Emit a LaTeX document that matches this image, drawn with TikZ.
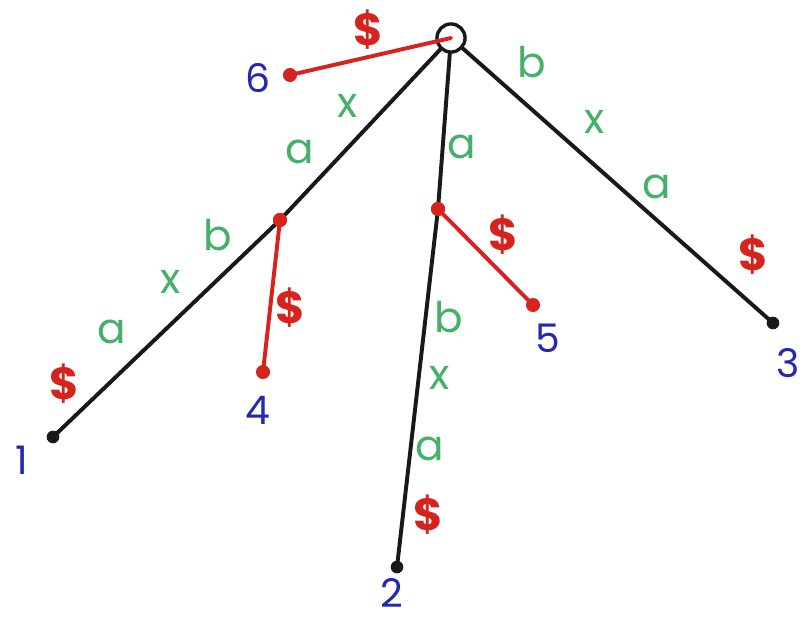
\documentclass[tikz,border=0pt]{standalone}
\usepackage{fontspec}
\setmainfont{Poppins}
\begin{document}
\begin{tikzpicture}[x=0.025cm,y=-0.025cm,
  edge/.style={line width=2.8pt,draw=black!90,line cap=round},
  redge/.style={line width=2.8pt,draw=redc,line cap=round},
  bdot/.style={circle,fill=black!90,inner sep=0pt,minimum size=9pt},
  rdot/.style={circle,fill=redc,inner sep=0pt,minimum size=10pt},
  lab/.style={text=greenc,font=\fontsize{30}{30}\selectfont,inner sep=0pt},
  dol/.style={text=redc,font=\fontsize{32}{32}\selectfont\bfseries,inner sep=0pt},
  num/.style={text=bluec,font=\fontsize{28}{28}\selectfont,inner sep=0pt}]
\definecolor{greenc}{RGB}{70,175,105}
\definecolor{redc}{RGB}{215,35,30}
\definecolor{bluec}{RGB}{35,40,175}
\useasboundingbox[fill=white] (0,0) rectangle (802,621);
% nodes
\node[circle,draw=black!90,line width=2.4pt,minimum size=20pt,inner sep=0pt] (root) at (451,38) {};
\node[bdot] (l1) at (53,437) {};
\node[rdot] (i4) at (280,220) {};
\node[rdot] (l4) at (263,372) {};
\node[rdot] (l6) at (290,75) {};
\node[rdot] (i5) at (438,209) {};
\node[rdot] (l5) at (533,305) {};
\node[bdot] (l2) at (397,567) {};
\node[bdot] (l3) at (773,323) {};
% edges
\draw[edge] (root) -- (i4.center) -- (l1.center);
\draw[edge] (root) -- (i5.center) -- (l2.center);
\draw[edge] (root) -- (l3.center);
\draw[redge] (root.center) -- (l6.center);
\draw[redge] (i4.center) -- (l4.center);
\draw[redge] (i5.center) -- (l5.center);
\node[rdot] at (i4) {};
\node[rdot] at (i5) {};
% labels
\node[dol] (d6) at (368,30) {\$};
\node[num] (n6) at (258,78) {6};
\node[lab] (t1) at (348,106) {x};
\node[lab] (t2) at (300,152) {a};
\node[lab] (t3) at (218,235) {b};
\node[lab] (t4) at (171,282) {x};
\node[lab] (t5) at (112,332) {a};
\node[dol] (d1) at (64,384) {\$};
\node[dol] (d4) at (290,308) {\$};
\node[num] (n4) at (258,410) {4};
\node[num] (n1) at (22,460) {1};
\node[lab] (t6) at (462,147) {a};
\node[dol] (d5) at (503,235) {\$};
\node[num] (n5) at (548,338) {5};
\node[lab] (t7) at (449,317) {b};
\node[lab] (t8) at (440,378) {x};
\node[lab] (t9) at (430,449) {a};
\node[dol] (d2) at (428,515) {\$};
\node[num] (n2) at (392,593) {2};
\node[lab] (t10) at (532,62) {b};
\node[lab] (t11) at (595,122) {x};
\node[lab] (t12) at (657,187) {a};
\node[dol] (d3) at (753,255) {\$};
\node[num] (n3) at (788,363) {3};
\end{tikzpicture}
\end{document}
